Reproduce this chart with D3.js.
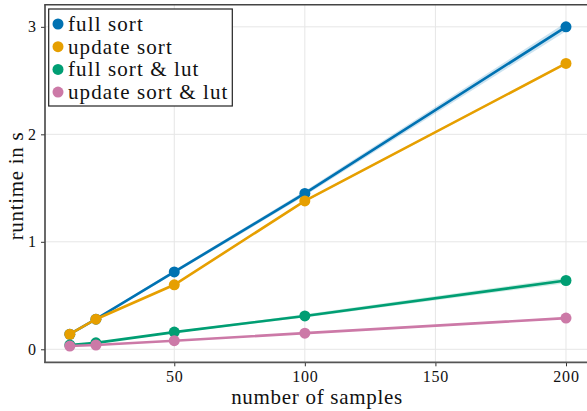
<!DOCTYPE html>
<html>
<head>
<meta charset="utf-8">
<script src="https://cdn.jsdelivr.net/npm/d3@7"></script>
<style>
  html, body { margin: 0; padding: 0; background: #fff; }
  svg { display: block; }
  text { font-family: "Liberation Serif", "DejaVu Serif", serif; fill: #111; }
</style>
</head>
<body>
<svg id="chart" width="587" height="411"></svg>
<script>
// ---- data ----
const samples = [10, 20, 50, 100, 200];
const seriesNames = ["full sort", "update sort", "full sort & lut", "update sort & lut"];
const fullSort = [0.14, 0.28, 0.72, 1.45, 3.00];
const updateSort = [0.14, 0.28, 0.60, 1.38, 2.66];
const fullSortLut = [0.04, 0.06, 0.16, 0.31, 0.64];
const updateSortLut = [0.03, 0.04, 0.08, 0.15, 0.29];
// spread (half width of shaded band)
const fullSortSpread = [0.01, 0.01, 0.015, 0.022, 0.04];
const updateSortSpread = [0.005, 0.005, 0.008, 0.01, 0.012];
const fullSortLutSpread = [0.005, 0.005, 0.008, 0.015, 0.025];
const updateSortLutSpread = [0.003, 0.003, 0.004, 0.006, 0.008];
const xTicks = [50, 100, 150, 200];
const yTicks = [0, 1, 2, 3];
const colors = ["#0072B2", "#E69F00", "#009E73", "#CC79A7"];

const seriesValues = [fullSort, updateSort, fullSortLut, updateSortLut];
const seriesSpread = [fullSortSpread, updateSortSpread, fullSortLutSpread, updateSortLutSpread];

// ---- layout ----
const svg = d3.select("#chart");
const pLeft = 45, pRight = 590.8, pTop = 4.7, pBottom = 362.3;

const x = d3.scaleLinear().domain([0.5, 209.5]).range([pLeft, pRight]);
const y = d3.scaleLinear().domain([-0.121, 3.206]).range([pBottom, pTop]);

// grid
const grid = svg.append("g");
grid.selectAll("line.gx").data(xTicks).join("line")
  .attr("x1", d => x(d)).attr("x2", d => x(d))
  .attr("y1", pTop).attr("y2", pBottom)
  .attr("stroke", "#e6e6e6").attr("stroke-width", 1);
grid.selectAll("line.gy").data(yTicks).join("line")
  .attr("x1", pLeft).attr("x2", pRight)
  .attr("y1", d => y(d)).attr("y2", d => y(d))
  .attr("stroke", "#e6e6e6").attr("stroke-width", 1);

// bands
const area = d3.area()
  .x(d => x(d.x)).y0(d => y(d.v - d.s)).y1(d => y(d.v + d.s));
const line = d3.line().x(d => x(d.x)).y(d => y(d.v));

const series = seriesNames.map((name, i) => ({
  name, color: colors[i],
  pts: samples.map((s, j) => ({ x: s, v: seriesValues[i][j], s: seriesSpread[i][j] }))
}));

const plot = svg.append("g");
series.forEach(s => {
  plot.append("path").datum(s.pts).attr("d", area)
    .attr("fill", s.color).attr("fill-opacity", 0.2);
});
series.forEach(s => {
  plot.append("path").datum(s.pts).attr("d", line)
    .attr("fill", "none").attr("stroke", s.color).attr("stroke-width", 2.6);
  plot.selectAll(null).data(s.pts).join("circle")
    .attr("cx", d => x(d.x)).attr("cy", d => y(d.v)).attr("r", 5.5)
    .attr("fill", s.color);
});

// axes
const xAxis = d3.axisBottom(x).tickValues(xTicks).tickFormat(d3.format("d")).tickSize(4).tickPadding(4);
const gx = svg.append("g").attr("transform", `translate(0,${pBottom})`).call(xAxis);
gx.select(".domain").remove();
gx.selectAll(".tick line").attr("stroke", "#333");
gx.selectAll(".tick text").attr("font-size", 16).attr("letter-spacing", 0.8)
  .attr("font-family", "Liberation Serif").attr("fill", "#111");

const yAxis = d3.axisLeft(y).tickValues(yTicks).tickFormat(d3.format("d")).tickSize(4).tickPadding(5);
const gy = svg.append("g").attr("transform", `translate(${pLeft},0)`).call(yAxis);
gy.select(".domain").remove();
gy.selectAll(".tick line").attr("stroke", "#333");
gy.selectAll(".tick text").attr("font-size", 16)
  .attr("font-family", "Liberation Serif").attr("fill", "#111");

// spines
svg.append("line").attr("x1", pLeft).attr("x2", pLeft).attr("y1", pTop).attr("y2", pBottom + 0.8)
  .attr("stroke", "#444").attr("stroke-width", 1.6);
svg.append("line").attr("x1", pLeft - 0.8).attr("x2", pRight).attr("y1", pBottom).attr("y2", pBottom)
  .attr("stroke", "#555").attr("stroke-width", 1.8);
svg.append("line").attr("x1", pLeft - 0.8).attr("x2", pRight).attr("y1", pTop).attr("y2", pTop)
  .attr("stroke", "#444").attr("stroke-width", 1.6);

// axis titles
svg.append("text").attr("x", 317).attr("y", 404)
  .attr("text-anchor", "middle").attr("font-size", 21).attr("letter-spacing", 0.7)
  .text("number of samples");
svg.append("text").attr("transform", `translate(23,186) rotate(-90)`)
  .attr("text-anchor", "middle").attr("font-size", 21).attr("letter-spacing", 0.7)
  .text("runtime in s");

// legend
const lg = svg.append("g");
lg.append("rect").attr("x", 48.7).attr("y", 9).attr("width", 183.6).attr("height", 97)
  .attr("fill", "#fff").attr("stroke", "#222").attr("stroke-width", 1.2);
const items = lg.selectAll("g.item").data(series).join("g")
  .attr("transform", (d, i) => `translate(58,${24 + i * 22.7})`);
items.append("circle").attr("r", 5.5).attr("fill", d => d.color);
items.append("text").attr("x", 10).attr("dy", "0.33em").attr("font-size", 21)
  .attr("letter-spacing", 1.1).text(d => d.name);
</script>
</body>
</html>
